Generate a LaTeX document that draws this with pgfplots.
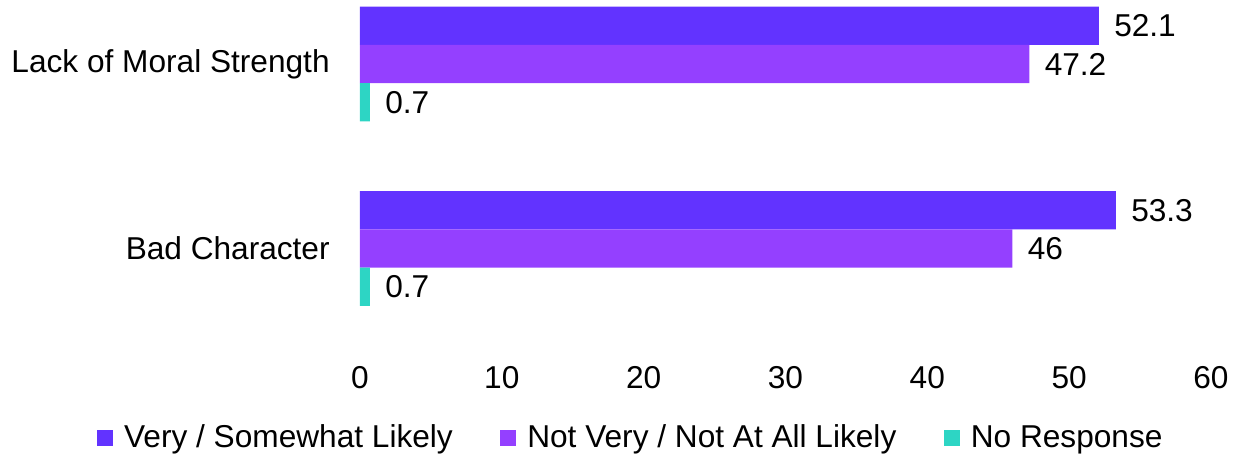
\documentclass[border=0pt]{standalone}
\usepackage{pgfplots}
\pgfplotsset{compat=1.18}
\usepackage{fontspec}
\setmainfont{Liberation Sans}
\definecolor{cA}{HTML}{6233FF}
\definecolor{cB}{HTML}{9440FF}
\definecolor{cC}{HTML}{2DD5C4}
\newcommand{\ff}{\fontsize{12.65}{15}\selectfont}
\begin{document}
\begin{tikzpicture}
\begin{axis}[
 at={(144pt,0pt)}, anchor=north west,
 scale only axis, width=340.4pt, height=142pt,
 xmin=0, xmax=60, ymin=-0.577, ymax=1.347,
 xtick={0,10,...,60}, ytick={0,1},
 yticklabels={Bad Character,Lack of Moral Strength},
 axis line style={draw=none}, tick style={draw=none}, major tick length=0pt,
 xbar, bar width=15.3pt,
 /pgf/number format/assume math mode=true,
 tick label style={font=\ff},
 yticklabel style={xshift=-8.6pt},
 xticklabel style={yshift=-1pt},
 nodes near coords,
 nodes near coords style={font=\ff, black, xshift=2.6pt},
 legend columns=3,
 legend style={draw=none, fill=none, at={(0.32,-0.234)}, anchor=center, font=\ff,
   /tikz/every even column/.append style={column sep=17pt},
   /tikz/every odd column/.append style={column sep=0pt}},
 legend image code/.code={\fill[#1] (0pt,-3.2pt) rectangle (6.4pt,3.2pt); \path (8.8pt,0pt);},
]
\addplot[fill=cA, draw=none, bar shift=15.3pt] coordinates {(52.1,1) (53.3,0)};
\addplot[fill=cB, draw=none, bar shift=0pt] coordinates {(47.2,1) (46,0)};
\addplot[fill=cC, draw=none, bar shift=-15.3pt] coordinates {(0.7,1) (0.7,0)};
\legend{Very / Somewhat Likely, Not Very / Not At All Likely, No Response}
\end{axis}
\pgfresetboundingbox
\path (0pt,0pt) rectangle (493.6pt,-182.4pt);
\end{tikzpicture}
\end{document}
